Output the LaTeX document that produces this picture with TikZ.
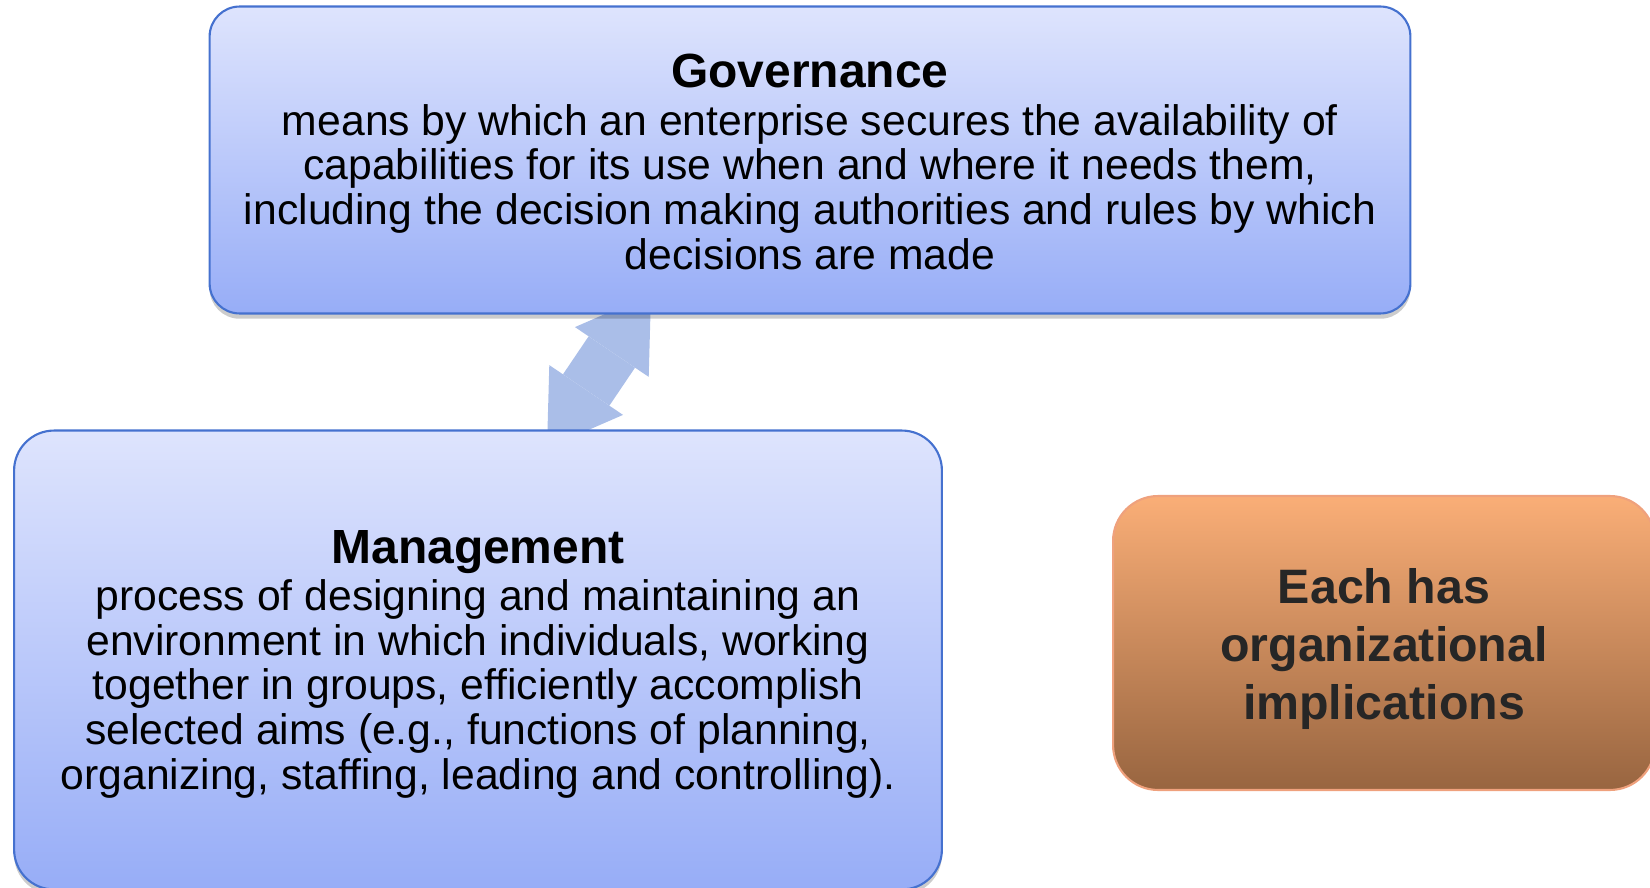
\documentclass[tikz,border=0pt]{standalone}
\usepackage{fontspec}
\setmainfont{Liberation Sans}
\usetikzlibrary{arrows.meta,shadows}

\definecolor{blutop}{HTML}{DEE4FD}
\definecolor{blubot}{HTML}{97ADF7}
\definecolor{bluline}{HTML}{4571CF}
\definecolor{orgtop}{HTML}{FAAE77}
\definecolor{orgbot}{HTML}{986540}
\definecolor{orgline}{HTML}{EFA17D}
\definecolor{linkblue}{HTML}{AABEE8}
\definecolor{notetext}{HTML}{262626}

\newcommand{\boxtext}[2]{\raisebox{#1}[\height][\depth]{\begin{tabular}{@{}c@{}}#2\end{tabular}}}
\newcommand{\boxtitle}[1]{{\fontsize{27.3}{27}\selectfont\bfseries #1}}

\tikzset{
  blubox/.style={draw=bluline, line width=1.2pt, top color=blutop, bottom color=blubot,
    inner sep=0pt, font=\fontsize{24.3}{25.4}\selectfont,
    drop shadow={shadow xshift=0pt, shadow yshift=-3pt, opacity=0.2, fill=black}},
  notebox/.style={draw=orgline, line width=1.2pt, top color=orgtop, bottom color=orgbot,
    inner sep=0pt, text=notetext, font=\fontsize{27.5}{33}\selectfont\bfseries,
    rounded corners=0.9cm, minimum width=10.84cm, minimum height=5.88cm},
  link/.style={draw=linkblue, line width=1.12cm,
    {Triangle[width=1.78cm,length=1.4cm,line width=0pt]}-{Triangle[width=1.78cm,length=1.4cm,line width=0pt]}}
}

\begin{document}
\begin{tikzpicture}[x=0.02cm,y=-0.02cm]
  \clip (0,0) rectangle (1650,888);
  % Arrow
  \coordinate (lo) at (547,448);
  \coordinate (hi) at (651,294);
  \draw[link] (lo) -- (hi);
  % Boxes
  \node[blubox, rounded corners=0.6cm, minimum width=24.02cm, minimum height=6.14cm] (gov) at (810,160)
    {\boxtext{-0.17cm}{\boxtitle{Governance}\\[1.5pt]
     means by which an enterprise secures the availability of\\
     capabilities for its use when and where it needs them,\\
     including the decision making authorities and rules by which\\
     decisions are made}};
  \node[blubox, rounded corners=0.8cm, minimum width=18.56cm, minimum height=9.18cm] (mgmt) at (478,660)
    {\boxtext{-0.13cm}{\boxtitle{Management}\\[1.5pt]
     process of designing and maintaining an\\
     environment in which individuals, working\\
     together in groups, efficiently accomplish\\
     selected aims (e.g., functions of planning,\\
     organizing, staffing, leading and controlling).}};
  \node[notebox] (note) at (1384,643)
    {\boxtext{-0.13cm}{Each has\\organizational\\implications}};
\end{tikzpicture}
\end{document}
